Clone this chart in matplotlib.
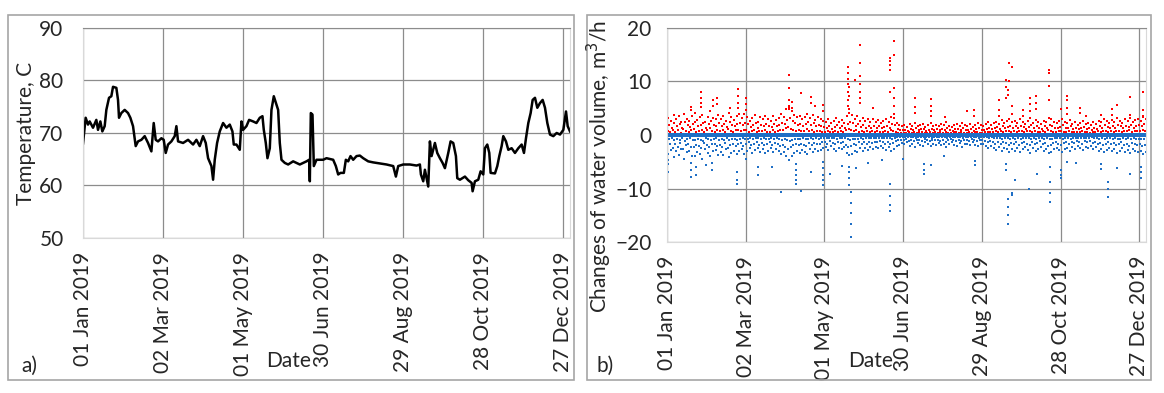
import numpy as np
import matplotlib
matplotlib.use("Agg")
import matplotlib.pyplot as plt
import matplotlib.dates as mdates
from matplotlib.patches import Rectangle

plt.rcParams['font.family'] = ['Lato', 'DejaVu Sans']

start = np.datetime64('2019-01-01T00:00')

# ---- panel a: supply temperature (day of year, deg C)
temp_day = [0, 2, 3.75, 5, 7.5, 10, 11.25, 13, 14.5, 16.25, 17.5, 19.5, 21.25, 22.5, 25, 26.25,
            27, 28.75, 31.25, 33.75, 35.5, 37.5, 39.5, 41.25, 43.75, 46.25, 48.75, 51.25, 53,
            54.5, 56.25, 58.75, 60.5, 62, 63.75, 66.25, 68.75, 70, 71.25, 75, 78.75, 82.5, 85,
            87.5, 90, 92, 93.75, 96.25, 97.5, 98.75, 100.5, 102.5, 105, 107.5, 110, 112, 113,
            115, 117.5, 118.75, 120, 122.5, 124.5, 127.5, 130, 132.5, 134.5, 135.5, 137, 138.25,
            140, 141.25, 143, 145, 146.25, 147.5, 148.75, 151.25, 153.75, 157.5, 162.5, 167.5,
            169.5, 170, 170.75, 172, 173, 175, 180, 182.5, 187.5, 189.5, 191.25, 193, 195.5, 197,
            198.75, 200.5, 202.5, 205, 207.5, 210, 213.75, 217.5, 222.5, 227.5, 232.5, 234.5,
            236.25, 240, 245, 250, 252.5, 253.25, 255, 256.25, 257.5, 258.75, 260, 261.25, 263.75,
            265.5, 267.5, 269.5, 271.25, 273.75, 275.5, 277.5, 279.5, 280.5, 282.5, 286.25,
            288.75, 291.25, 292, 293.75, 296.25, 298, 300, 301.25, 303, 304.5, 305.5, 308.75,
            310.5, 312, 313.75, 315, 317, 318.75, 321.25, 323.75, 326.25, 328.75, 330.5, 332,
            333.75, 335.5, 337, 338.75, 340.5, 342.5, 344.5, 346.25, 348, 350, 352.5, 355, 357.5,
            360, 362, 363.25, 365]
temp_val = [68.0, 72.9, 71.6, 72.2, 71.0, 72.5, 70.6, 72.2, 70.3, 71.3, 74.4, 76.7, 77.0, 78.8,
            78.6, 76.3, 72.9, 73.8, 74.4, 73.8, 72.9, 71.3, 67.5, 68.4, 68.7, 69.4, 68.1, 66.5,
            71.9, 68.7, 68.4, 69.0, 68.7, 66.2, 67.8, 68.4, 69.4, 71.3, 68.4, 68.1, 68.7, 67.8,
            68.7, 67.5, 69.4, 68.1, 65.2, 63.7, 61.1, 64.9, 68.1, 70.3, 71.9, 71.0, 71.6, 70.3,
            67.8, 67.8, 66.8, 72.2, 70.6, 71.3, 72.5, 72.2, 71.9, 72.9, 73.2, 70.6, 68.1, 65.2,
            67.1, 74.4, 77.0, 75.4, 74.4, 68.1, 64.9, 64.3, 64.0, 64.6, 64.0, 64.6, 64.9, 60.8,
            73.8, 73.5, 63.7, 64.9, 64.9, 65.2, 64.9, 63.7, 62.1, 62.4, 62.4, 64.9, 64.6, 65.6,
            64.9, 65.6, 65.7, 65.2, 64.6, 64.4, 64.2, 64.0, 63.7, 61.7, 63.7, 64.0, 64.0, 63.8,
            64.0, 62.1, 60.8, 63.0, 61.4, 59.8, 68.4, 65.6, 68.1, 66.2, 65.2, 64.3, 63.3, 66.2,
            68.4, 68.1, 65.6, 61.4, 61.1, 61.7, 61.0, 60.5, 58.9, 60.8, 61.1, 62.7, 62.1, 67.1,
            67.8, 66.2, 62.4, 62.3, 63.7, 65.6, 67.5, 69.4, 68.4, 66.8, 67.1, 66.2, 67.1, 67.8,
            66.2, 69.0, 71.9, 73.8, 76.3, 76.7, 74.8, 75.7, 76.3, 74.8, 71.9, 69.7, 69.4, 70.0,
            69.7, 70.6, 74.1, 71.3, 70.3]

# ---- panel b: hourly changes of water volume, m3/h, read per 2-day bin
bin_day = np.arange(1, 366, 2)
pos_a = [3.2, 2.6, 3.8, 2.9, 3.5, 2.4, 3.9, 3.0, 2.7, 3.6,
         4.1, 2.8, 3.3, 3.7, 2.5, 3.4, 4.5, 3.1, 2.9, 3.8,
         3.0, 3.6, 2.6, 4.2, 3.3, 2.8, 3.5, 4.0, 3.2, 3.9,
         3.4, 2.7, 3.1, 3.8, 2.5, 3.3, 2.9, 3.6, 3.0, 2.6,
         3.5, 2.8, 3.2, 3.9, 3.4, 4.8, 5.2, 4.4, 3.8, 3.3,
         3.6, 2.9, 3.4, 4.0, 3.1, 3.7, 2.8, 3.3, 3.0, 2.7,
         2.4, 2.9, 2.2, 2.7, 3.1, 2.5, 2.8, 2.3, 3.5, 4.2,
         3.8, 3.0, 3.6, 2.7, 3.2, 2.6, 3.0, 2.5, 2.9, 2.4,
         2.8, 2.3, 2.6, 3.0, 2.5, 3.4, 3.1, 2.2, 1.9, 1.6,
         1.8, 1.5, 2.0, 1.7, 2.3, 1.6, 1.9, 2.1, 1.5, 1.8,
         2.2, 1.7, 1.9, 1.6, 2.0, 1.8, 2.4, 1.7, 1.5, 1.9,
         2.1, 1.6, 2.3, 1.8, 1.7, 2.0, 1.5, 1.9, 2.2, 1.8,
         1.6, 2.0, 2.4, 1.9, 2.2, 2.5, 2.1, 2.8, 2.3, 2.6,
         3.0, 2.4, 2.7, 2.2, 2.9, 2.5, 2.1, 2.6, 3.1, 2.3,
         2.8, 2.4, 2.0, 2.7, 2.5, 3.2, 2.9, 2.4, 2.2, 2.6,
         3.0, 2.5, 2.3, 2.8, 2.1, 2.4, 1.9, 2.2, 2.6, 2.0,
         2.3, 1.8, 2.5, 2.1, 2.7, 2.4, 3.0, 2.6, 2.2, 2.8,
         2.5, 3.1, 2.7, 2.3, 2.9, 2.6, 3.2, 2.4, 2.8, 3.0,
         2.7, 3.3, 2.9]
pos_b = [1.9, 1.4, 2.2, 1.6, 2.0, 1.3, 2.4, 1.8, 1.5, 2.1,
         2.5, 1.7, 1.9, 2.3, 1.4, 2.0, 2.6, 1.8, 1.6, 2.2,
         1.7, 2.1, 1.5, 2.4, 1.9, 1.6, 2.0, 2.3, 1.8, 2.2,
         2.0, 1.5, 1.8, 2.2, 1.4, 1.9, 1.7, 2.1, 1.6, 1.5,
         2.0, 1.6, 1.9, 2.3, 2.0, 2.8, 3.1, 2.6, 2.2, 1.9,
         2.1, 1.7, 2.0, 2.4, 1.8, 2.2, 1.6, 1.9, 1.7, 1.5,
         1.3, 1.7, 1.2, 1.5, 1.8, 1.4, 1.6, 1.3, 2.0, 2.5,
         2.2, 1.7, 2.1, 1.5, 1.8, 1.4, 1.7, 1.4, 1.6, 1.3,
         1.6, 1.3, 1.5, 1.7, 1.4, 2.0, 1.8, 1.2, 1.0, 0.9,
         1.0, 0.8, 1.1, 0.9, 1.3, 0.9, 1.1, 1.2, 0.8, 1.0,
         1.2, 0.9, 1.1, 0.9, 1.1, 1.0, 1.4, 0.9, 0.8, 1.1,
         1.2, 0.9, 1.3, 1.0, 1.0, 1.1, 0.8, 1.1, 1.3, 1.0,
         0.9, 1.1, 1.4, 1.1, 1.3, 1.5, 1.2, 1.6, 1.3, 1.5,
         1.7, 1.4, 1.6, 1.3, 1.7, 1.5, 1.2, 1.5, 1.8, 1.3,
         1.6, 1.4, 1.1, 1.6, 1.4, 1.9, 1.7, 1.4, 1.3, 1.5,
         1.8, 1.4, 1.3, 1.6, 1.2, 1.4, 1.1, 1.3, 1.5, 1.1,
         1.3, 1.0, 1.4, 1.2, 1.6, 1.4, 1.8, 1.5, 1.3, 1.6,
         1.4, 1.8, 1.6, 1.3, 1.7, 1.5, 1.9, 1.4, 1.6, 1.8,
         1.6, 2.0, 1.7]
pos_c = [0.8, 0.5, 1.0, 0.6, 0.9, 0.4, 1.1, 0.7, 0.5, 0.9,
         1.2, 0.6, 0.8, 1.0, 0.5, 0.9, 1.3, 0.7, 0.6, 1.0,
         0.7, 0.9, 0.5, 1.1, 0.8, 0.6, 0.9, 1.0, 0.7, 1.0,
         0.9, 0.6, 0.7, 1.0, 0.5, 0.8, 0.7, 0.9, 0.6, 0.5,
         0.9, 0.6, 0.8, 1.0, 0.9, 1.3, 1.5, 1.2, 1.0, 0.8,
         0.9, 0.7, 0.8, 1.1, 0.7, 0.9, 0.6, 0.8, 0.7, 0.6,
         0.5, 0.7, 0.5, 0.6, 0.8, 0.6, 0.7, 0.5, 0.9, 1.1,
         1.0, 0.7, 0.9, 0.6, 0.8, 0.6, 0.7, 0.6, 0.7, 0.5,
         0.7, 0.5, 0.6, 0.7, 0.6, 0.9, 0.8, 0.5, 0.4, 0.4,
         0.4, 0.3, 0.5, 0.4, 0.6, 0.4, 0.5, 0.5, 0.3, 0.4,
         0.5, 0.4, 0.5, 0.4, 0.5, 0.4, 0.6, 0.4, 0.3, 0.5,
         0.5, 0.4, 0.6, 0.4, 0.4, 0.5, 0.3, 0.5, 0.6, 0.4,
         0.4, 0.5, 0.6, 0.5, 0.6, 0.7, 0.5, 0.7, 0.6, 0.7,
         0.8, 0.6, 0.7, 0.6, 0.8, 0.7, 0.5, 0.7, 0.8, 0.6,
         0.7, 0.6, 0.5, 0.7, 0.6, 0.9, 0.8, 0.6, 0.6, 0.7,
         0.8, 0.6, 0.6, 0.7, 0.5, 0.6, 0.5, 0.6, 0.7, 0.5,
         0.6, 0.4, 0.6, 0.5, 0.7, 0.6, 0.8, 0.7, 0.6, 0.7,
         0.6, 0.8, 0.7, 0.6, 0.8, 0.7, 0.9, 0.6, 0.7, 0.8,
         0.7, 0.9, 0.8]
neg_a = [-3.5, -2.8, -4.2, -3.0, -3.8, -2.6, -4.5, -3.2, -2.9, -3.9,
         -4.0, -3.1, -3.6, -4.4, -2.7, -3.3, -3.9, -3.0, -2.8, -3.7,
         -3.2, -3.8, -2.7, -4.1, -3.4, -2.9, -3.6, -3.0, -2.6, -3.5,
         -3.0, -2.5, -3.3, -2.8, -2.4, -3.1, -2.7, -3.4, -2.9, -2.5,
         -3.2, -2.7, -3.0, -3.6, -3.2, -4.0, -4.6, -3.9, -3.4, -3.0,
         -3.3, -2.8, -3.1, -3.5, -2.7, -3.2, -2.6, -3.0, -2.8, -2.5,
         -2.3, -2.8, -2.1, -2.6, -3.0, -2.4, -2.7, -2.2, -3.3, -3.8,
         -3.5, -2.9, -3.2, -2.5, -3.0, -2.4, -2.8, -2.3, -2.7, -2.2,
         -2.5, -2.1, -2.4, -2.8, -2.3, -2.9, -2.6, -2.0, -1.8, -1.5,
         -1.7, -1.4, -2.0, -1.6, -2.2, -1.5, -1.8, -2.0, -1.4, -1.7,
         -2.1, -1.6, -1.8, -1.5, -1.9, -1.7, -2.3, -1.6, -1.4, -1.8,
         -2.0, -1.5, -2.2, -1.7, -1.6, -1.9, -1.4, -1.8, -2.1, -1.7,
         -1.6, -2.0, -2.5, -2.0, -2.4, -2.8, -2.3, -3.0, -2.5, -2.7,
         -3.1, -2.6, -2.9, -2.4, -3.2, -2.7, -2.3, -2.8, -3.3, -2.5,
         -3.0, -2.6, -2.2, -2.9, -2.7, -3.4, -3.1, -2.6, -2.4, -2.8,
         -3.2, -2.7, -2.5, -3.0, -2.3, -2.6, -2.1, -2.4, -2.8, -2.2,
         -2.5, -2.0, -2.7, -2.3, -2.9, -2.6, -3.2, -2.8, -2.4, -3.0,
         -2.7, -3.3, -2.9, -2.5, -3.1, -2.8, -3.4, -2.6, -3.0, -3.2,
         -2.9, -3.5, -3.1]
neg_b = [-2.0, -1.6, -2.4, -1.7, -2.2, -1.5, -2.6, -1.8, -1.6, -2.3,
         -2.3, -1.8, -2.1, -2.5, -1.5, -1.9, -2.2, -1.7, -1.6, -2.1,
         -1.8, -2.2, -1.5, -2.4, -1.9, -1.7, -2.1, -1.7, -1.5, -2.0,
         -1.7, -1.4, -1.9, -1.6, -1.4, -1.8, -1.5, -1.9, -1.7, -1.4,
         -1.8, -1.5, -1.7, -2.1, -1.8, -2.3, -2.7, -2.2, -1.9, -1.7,
         -1.9, -1.6, -1.8, -2.0, -1.5, -1.8, -1.5, -1.7, -1.6, -1.4,
         -1.3, -1.6, -1.2, -1.5, -1.7, -1.4, -1.5, -1.3, -1.9, -2.2,
         -2.0, -1.7, -1.8, -1.4, -1.7, -1.4, -1.6, -1.3, -1.5, -1.3,
         -1.4, -1.2, -1.4, -1.6, -1.3, -1.7, -1.5, -1.1, -1.0, -0.9,
         -1.0, -0.8, -1.1, -0.9, -1.2, -0.9, -1.0, -1.1, -0.8, -1.0,
         -1.2, -0.9, -1.0, -0.9, -1.1, -1.0, -1.3, -0.9, -0.8, -1.0,
         -1.1, -0.9, -1.2, -1.0, -0.9, -1.1, -0.8, -1.0, -1.2, -1.0,
         -0.9, -1.1, -1.4, -1.1, -1.4, -1.6, -1.3, -1.7, -1.4, -1.5,
         -1.8, -1.5, -1.7, -1.4, -1.8, -1.5, -1.3, -1.6, -1.9, -1.4,
         -1.7, -1.5, -1.2, -1.7, -1.5, -2.0, -1.8, -1.5, -1.4, -1.6,
         -1.8, -1.5, -1.4, -1.7, -1.3, -1.5, -1.2, -1.4, -1.6, -1.2,
         -1.4, -1.1, -1.5, -1.3, -1.7, -1.5, -1.8, -1.6, -1.4, -1.7,
         -1.5, -1.9, -1.7, -1.4, -1.8, -1.6, -2.0, -1.5, -1.7, -1.9,
         -1.7, -2.0, -1.8]
neg_c = [-0.8, -0.6, -1.0, -0.7, -0.9, -0.5, -1.1, -0.7, -0.6, -0.9,
         -1.0, -0.7, -0.9, -1.1, -0.6, -0.8, -1.0, -0.7, -0.6, -0.9,
         -0.7, -0.9, -0.6, -1.0, -0.8, -0.7, -0.9, -0.7, -0.6, -0.8,
         -0.7, -0.5, -0.8, -0.6, -0.5, -0.7, -0.6, -0.8, -0.7, -0.5,
         -0.7, -0.6, -0.7, -0.9, -0.7, -1.0, -1.2, -0.9, -0.8, -0.7,
         -0.8, -0.6, -0.7, -0.8, -0.6, -0.7, -0.6, -0.7, -0.6, -0.5,
         -0.5, -0.6, -0.5, -0.6, -0.7, -0.5, -0.6, -0.5, -0.8, -0.9,
         -0.8, -0.7, -0.7, -0.5, -0.7, -0.5, -0.6, -0.5, -0.6, -0.5,
         -0.6, -0.5, -0.5, -0.6, -0.5, -0.7, -0.6, -0.4, -0.4, -0.3,
         -0.4, -0.3, -0.4, -0.3, -0.5, -0.3, -0.4, -0.4, -0.3, -0.4,
         -0.5, -0.3, -0.4, -0.3, -0.4, -0.4, -0.5, -0.3, -0.3, -0.4,
         -0.4, -0.3, -0.5, -0.4, -0.3, -0.4, -0.3, -0.4, -0.5, -0.4,
         -0.3, -0.4, -0.6, -0.4, -0.6, -0.6, -0.5, -0.7, -0.6, -0.6,
         -0.7, -0.6, -0.7, -0.5, -0.7, -0.6, -0.5, -0.6, -0.8, -0.5,
         -0.7, -0.6, -0.5, -0.7, -0.6, -0.8, -0.7, -0.6, -0.5, -0.6,
         -0.7, -0.6, -0.5, -0.7, -0.5, -0.6, -0.5, -0.5, -0.6, -0.5,
         -0.5, -0.4, -0.6, -0.5, -0.7, -0.6, -0.7, -0.6, -0.5, -0.7,
         -0.6, -0.8, -0.7, -0.5, -0.7, -0.6, -0.8, -0.6, -0.7, -0.8,
         -0.7, -0.8, -0.7]

# isolated large changes (day of year, m3/h)
pos_spike_day = [18, 18, 26, 26, 26, 26, 35, 35, 38, 38, 48, 54, 54, 54, 54, 60, 60, 60,
                 93, 93, 93, 93, 93, 95, 95, 102, 110, 110, 113, 119, 119,
                 138, 138, 138, 138, 138, 138, 138, 139, 139, 139, 143,
                 147, 147, 147, 147, 147, 147, 147, 157, 170, 170, 170, 170, 170,
                 173, 173, 173, 173, 173, 173, 189, 189, 189, 201, 201, 201, 201, 212,
                 229, 234, 234, 253, 253, 253, 258, 258, 258, 260, 260, 261, 261,
                 263, 263, 263, 271, 271, 277, 277, 277, 281, 281, 281, 291, 291, 291, 291,
                 300, 305, 305, 305, 305, 315, 315, 319, 331, 339, 339, 343, 353, 353,
                 363, 363, 363]
pos_spike_val = [4.7, 5.3, 8.1, 7.0, 6.0, 5.2, 6.6, 5.5, 6.9, 5.8, 5.0, 8.6, 7.2, 6.0, 5.0,
                 6.9, 5.8, 4.6, 11.2, 8.7, 6.6, 5.5, 4.8, 6.2, 5.0, 7.9, 7.1, 5.9, 5.4, 5.6,
                 4.5, 12.8, 11.5, 10.5, 9.5, 8.0, 6.5, 5.5, 9.0, 7.2, 4.8, 10.3,
                 16.9, 13.4, 11.0, 9.5, 8.0, 7.0, 6.0, 5.0, 14.4, 13.8, 13.0, 12.2, 8.0,
                 17.5, 15.0, 8.7, 7.0, 5.5, 4.0, 6.9, 5.3, 4.2, 6.7, 5.5, 4.5, 3.5, 3.4,
                 4.4, 4.7, 3.6, 6.6, 4.7, 3.5, 10.3, 9.0, 6.9, 8.5, 7.5, 13.4, 10.0,
                 12.8, 5.5, 4.0, 4.7, 3.6, 6.9, 5.7, 4.5, 7.2, 6.0, 4.8, 12.2, 11.6, 9.1, 6.6,
                 4.8, 7.2, 6.5, 5.0, 4.0, 5.0, 4.2, 3.5, 3.75, 4.9, 3.8, 5.6, 7.1, 3.8,
                 8.1, 4.7, 3.5]
neg_spike_day = [1, 1, 1, 18, 18, 18, 22, 22, 30, 34, 34, 53, 53, 53, 60, 69, 69, 80, 87,
                 98, 98, 98, 98, 98, 102, 110, 119, 119, 119, 119, 119, 124, 133,
                 139, 139, 139, 139, 140, 140, 140, 140, 140, 144, 153, 164,
                 170, 170, 170, 170, 180, 196, 196, 196, 201, 211, 235, 235, 258, 258,
                 260, 260, 260, 260, 263, 263, 265, 276, 282, 292, 292, 292, 292,
                 300, 300, 300, 305, 312, 331, 331, 336, 336, 336, 343, 353, 361, 361, 361]
neg_spike_val = [-6.9, -5.5, -4.6, -7.8, -6.5, -5.2, -7.5, -6.0, -5.6, -6.5, -5.2, -9.1, -8.5,
                 -7.0, -4.5, -7.5, -6.0, -6.0, -10.7, -9.1, -8.5, -7.5, -6.5, -5.5, -10.4,
                 -6.9, -9.4, -8.5, -7.5, -6.2, -5.0, -7.2, -5.8,
                 -8.0, -7.0, -6.0, -9.3, -10.6, -12.8, -14.5, -16.6, -19.0, -6.2, -5.3, -4.7,
                 -9.1, -11.4, -13.1, -14.2, -4.5, -7.2, -6.5, -5.4, -5.6, -3.9, -5.6, -4.8,
                 -6.6, -5.5, -11.9, -13.5, -15.0, -16.6, -11.3, -10.8, -8.4, -10.0, -7.3,
                 -8.75, -10.9, -12.6, -6.0, -7.4, -8.0, -6.5, -5.0, -5.3, -6.3, -5.5,
                 -8.75, -10.0, -11.5, -6.1, -7.2, -8.0, -7.0, -6.0]

zero_day = np.arange(0, 365.5, 1.0)
zero_val = np.zeros(len(zero_day))


def to_dates(days):
    hours = np.round(np.asarray(days, dtype=float) * 24).astype('int64')
    return start + hours.astype('timedelta64[h]')


tick_dates = [start + np.timedelta64(60 * k, 'D') for k in range(7)]
grid_c = '#8c8c8c'
text_c = '#262626'
fs = 15
red = '#ff0000'
blue = '#1f6fc6'

fig = plt.figure(figsize=(11.64, 3.93), dpi=100)

# panel frames
for x0, w in [(0.0069, 0.4863), (0.5043, 0.4845)]:
    fig.add_artist(Rectangle((x0, 0.0331), w, 0.9288, transform=fig.transFigure,
                             fill=False, edgecolor='#a6a6a6', lw=1.2))

ax1 = fig.add_axes([0.0713, 0.3944, 0.4184, 0.5344])
ax2 = fig.add_axes([0.5730, 0.3842, 0.4115, 0.5446])

ax1.plot(to_dates(temp_day), temp_val, color='black', lw=1.8)
ax1.set_ylim(50, 90)
ax1.set_yticks([50, 60, 70, 80, 90])

ms = 4.2
for off, vals in [(0.0, pos_a), (0.7, pos_b), (-0.6, pos_c)]:
    ax2.scatter(to_dates(bin_day + off), vals, s=ms, marker='s', color=red, linewidths=0)
ax2.scatter(to_dates(pos_spike_day), pos_spike_val, s=ms, marker='s', color=red, linewidths=0)
for off, vals in [(0.0, neg_a), (-0.7, neg_b), (0.6, neg_c)]:
    ax2.scatter(to_dates(bin_day + off), vals, s=ms, marker='s', color=blue, linewidths=0)
ax2.scatter(to_dates(neg_spike_day), neg_spike_val, s=ms, marker='s', color=blue, linewidths=0)
ax2.scatter(to_dates(zero_day), zero_val, s=8, marker='s', color=blue, linewidths=0)
ax2.set_ylim(-20, 20)
ax2.set_yticks([-20, -10, 0, 10, 20])

for ax in (ax1, ax2):
    ax.set_xlim(start, start + np.timedelta64(365, 'D'))
    ax.set_xticks(tick_dates)
    ax.xaxis.set_major_formatter(mdates.DateFormatter('%d %b %Y'))
    ax.grid(True, color=grid_c, lw=0.9)
    ax.set_axisbelow(True)
    ax.tick_params(axis='both', length=0, labelsize=fs, colors=text_c)
    ax.tick_params(axis='x', rotation=90, pad=10)
    for side in ('left', 'right', 'bottom'):
        ax.spines[side].set_color('#d9d9d9')
    ax.spines['top'].set_color(grid_c)
ax1.tick_params(axis='y', pad=14)
ax2.tick_params(axis='y', pad=11)

fig.text(0.0223, 0.6616, 'Temperature, C', rotation=90, ha='center', va='center',
         fontsize=fs, color=text_c)
fig.text(0.5150, 0.576, 'Changes of water volume, m$^3$/h', rotation=90, ha='center',
         va='center', fontsize=fs, color=text_c)

fig.text(0.2475, 0.081, 'Date', ha='center', va='center', fontsize=fs, color=text_c)
fig.text(0.748, 0.081, 'Date', ha='center', va='center', fontsize=fs, color=text_c)
fig.text(0.025, 0.068, 'a)', ha='center', va='center', fontsize=fs, color=text_c)
fig.text(0.520, 0.068, 'b)', ha='center', va='center', fontsize=fs, color=text_c)

fig.savefig('out.png', dpi=100)
